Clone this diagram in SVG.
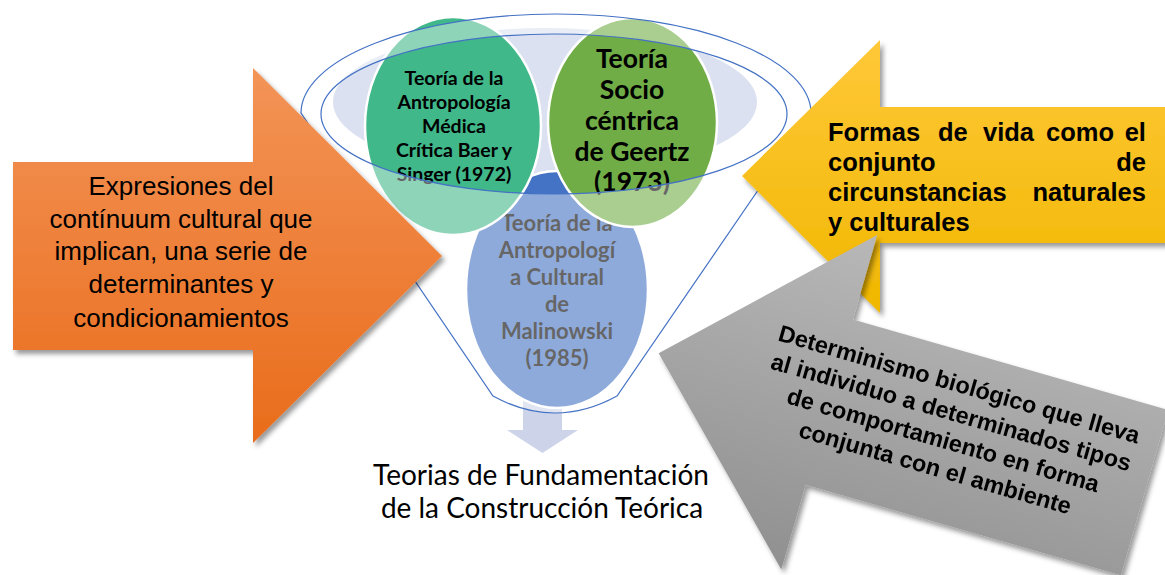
<svg xmlns="http://www.w3.org/2000/svg" width="1165" height="575" viewBox="0 0 1165 575">
<defs>
<linearGradient id="gOrange" x1="0" y1="0" x2="0" y2="1"><stop offset="0" stop-color="#f39457"/><stop offset="1" stop-color="#e96c1b"/></linearGradient>
<linearGradient id="gYellow" x1="0" y1="0" x2="0" y2="1"><stop offset="0" stop-color="#ffc838"/><stop offset="1" stop-color="#f0b700"/></linearGradient>
<linearGradient id="gGray" x1="0" y1="0" x2="0" y2="1"><stop offset="0" stop-color="#b8b8b8"/><stop offset="1" stop-color="#909090"/></linearGradient>
<filter id="shadow" x="-10%" y="-10%" width="130%" height="130%"><feDropShadow dx="3" dy="4" stdDeviation="2.5" flood-color="#000" flood-opacity="0.4"/></filter>
</defs>
<style>
.circ{stroke:#fff;stroke-width:2.5}
.ct{font-family:Lato,"Liberation Sans",sans-serif;font-weight:bold;fill:#000;text-anchor:middle}
.line{fill:none;stroke:#4472c4;stroke-width:1.2}
.at{font-family:"Liberation Sans",Arial,sans-serif;fill:#000}
.bt{font-family:Lato,"Liberation Sans",sans-serif;fill:#000;text-anchor:middle;font-size:28px}
</style>
<rect width="1165" height="575" fill="#fff"/>

<g id="funnel-back">
<ellipse cx="545" cy="102" rx="212" ry="74" fill="#dbe1f0"/>
</g>

<g id="connectors">
<path d="M523,398 L562,398 L562,430 L578,430 L542.5,453 L507,430 L523,430 Z" fill="#cdd4ea"/>
</g>

<g id="node-malinowski">
<ellipse class="circ" cx="557" cy="289.5" rx="91" ry="118.5" fill="#4472c4"/>
<text class="ct" font-size="22" x="557"><tspan x="557" y="231">Teoría de la</tspan><tspan x="557" y="258">Antropologí</tspan><tspan x="557" y="285">a Cultural</tspan><tspan x="557" y="312">de</tspan><tspan x="557" y="339">Malinowski</tspan><tspan x="557" y="366">(1985)</tspan></text>
</g>

<g id="node-baer-singer">
<ellipse class="circ" cx="453" cy="126" rx="88" ry="109" fill="#41b88a"/>
<text class="ct" font-size="19.5"><tspan x="454" y="84.5">Teoría de la</tspan><tspan x="454" y="108.5">Antropología</tspan><tspan x="454" y="132.5">Médica</tspan><tspan x="454" y="156.5">Crítica Baer y</tspan><tspan x="454" y="180.5">Singer (1972)</tspan></text>
</g>

<g id="node-geertz">
<ellipse class="circ" cx="632.5" cy="122.5" rx="84.5" ry="104.5" fill="#70ad47"/>
<text class="ct" font-size="26.5"><tspan x="632" y="68">Teoría</tspan><tspan x="632" y="99">Socio</tspan><tspan x="632" y="130">céntrica</tspan><tspan x="632" y="161">de Geertz</tspan><tspan x="632" y="191">(1973)</tspan></text>
</g>

<g id="funnel">
<path d="M301,113 A255,99 0 0 1 811,113 L617,396 Q555,430 493,396 Z M321,114 A233,80 0 1 0 787,114 A233,80 0 1 0 321,114 Z" fill="#fff" fill-opacity="0.4" fill-rule="evenodd"/>
<path class="line" d="M301,113 A255,99 0 0 1 811,113 L617,396 Q555,430 493,396 Z"/>
<ellipse class="line" cx="554" cy="114" rx="233" ry="80"/>
</g>

<g id="node-title">
<text class="bt"><tspan x="541" y="485">Teorias de Fundamentación</tspan><tspan x="542" y="518">de la Construcción Teórica</tspan></text>
</g>

<g id="node-expresiones">
<path d="M13,162 L253,162 L253,68 L442,256 L253,443 L253,350 L13,350 Z" fill="url(#gOrange)" filter="url(#shadow)"/>
<text class="at" font-size="26" text-anchor="middle"><tspan x="181" y="195">Expresiones del</tspan><tspan x="181" y="228">contínuum cultural que</tspan><tspan x="181" y="260">implican, una serie de</tspan><tspan x="181" y="293">determinantes y</tspan><tspan x="181" y="327">condicionamientos</tspan></text>
</g>

<g id="node-formas">
<path d="M1175,107 L880,107 L880,40 L742,176 L880,313 L880,243 L1175,243 Z" fill="url(#gYellow)" filter="url(#shadow)"/>
<text class="at" font-size="25.5" font-weight="bold">
<tspan x="828" y="141">Formas</tspan><tspan x="938" y="141">de</tspan><tspan x="983" y="141">vida</tspan><tspan x="1046" y="141">como</tspan><tspan x="1153" y="141" text-anchor="end">el</tspan>
<tspan x="828" y="171">conjunto</tspan><tspan x="1153" y="171" text-anchor="end">de</tspan>
<tspan x="828" y="201">circunstancias</tspan><tspan x="1153" y="201" text-anchor="end">naturales</tspan>
<tspan x="828" y="231">y culturales</tspan>
</text>
</g>

<g id="node-determinismo" filter="url(#shadow)">
<g transform="rotate(16)">
<path d="M730.5,158 L908,-16 L908,72 L1236,72 L1236,244 L908,244 L908,332 Z" fill="url(#gGray)"/>
<text class="at" font-size="23.5" font-weight="bold" text-anchor="middle"><tspan x="1028" y="113">Determinismo biológico que lleva</tspan><tspan x="1028" y="142">al individuo a determinados tipos</tspan><tspan x="1028" y="171">de comportamiento en forma</tspan><tspan x="1028" y="200">conjunta con el ambiente</tspan></text>
</g>
</g>
</svg>
